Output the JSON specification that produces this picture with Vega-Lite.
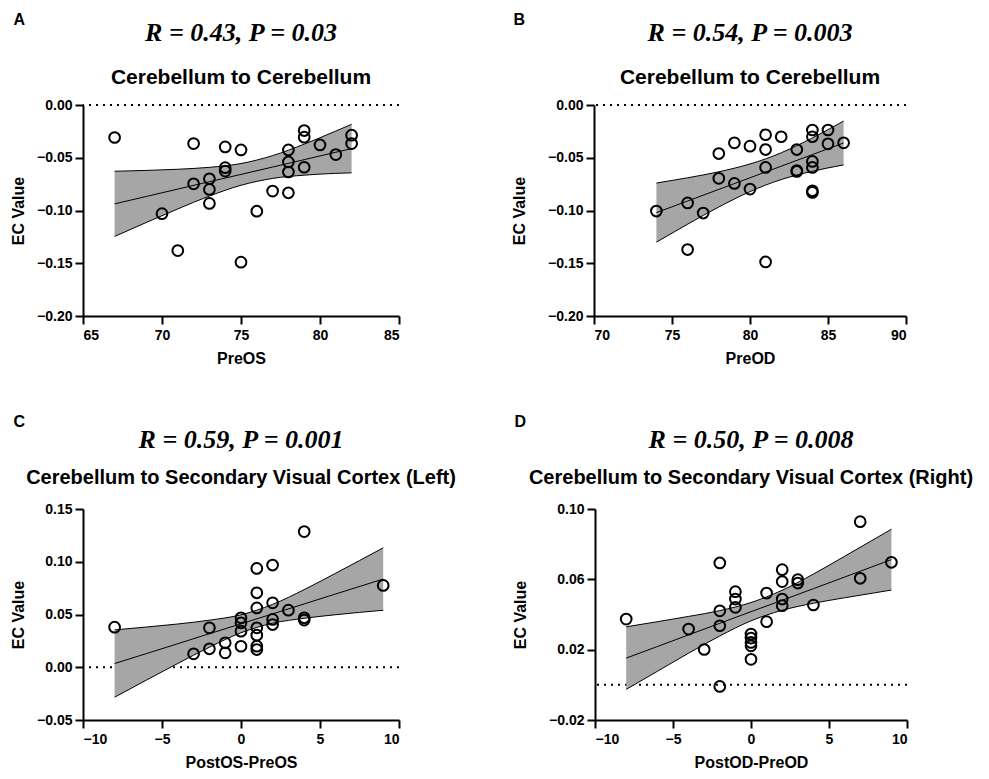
{
  "$schema": "https://vega.github.io/schema/vega-lite/v6.json",
  "padding": {"left": 10, "top": 12, "right": 0, "bottom": 0},
  "background": "white",
  "config": {
    "view": {"stroke": null},
    "font": "Liberation Sans",
    "axis": {"domain": true, "ticks": true, "grid": false, "zindex": 1, "domainColor": "black", "domainWidth": 2, "tickColor": "black", "tickWidth": 2, "tickSize": 8, "labelFont": "Liberation Sans", "labelFontWeight": "bold", "labelFontSize": 14, "labelColor": "black", "labelOverlap": false, "labelSeparation": 0, "titleFont": "Liberation Sans", "titleFontWeight": "bold", "titleFontSize": 16, "titleColor": "black"},
    "title": {"color": "black", "subtitleColor": "black"}
  },
  "datasets": {
    "zero": [{"z": 0}],
    "ptsA": [
      {"x": 67, "y": -0.0308}, {"x": 70, "y": -0.103}, {"x": 71, "y": -0.138}, {"x": 72, "y": -0.0366},
      {"x": 72, "y": -0.0747}, {"x": 73, "y": -0.0699}, {"x": 73, "y": -0.080}, {"x": 73, "y": -0.0933},
      {"x": 74, "y": -0.0397}, {"x": 74, "y": -0.0594}, {"x": 74, "y": -0.0626}, {"x": 75, "y": -0.0426},
      {"x": 75, "y": -0.149}, {"x": 76, "y": -0.1007}, {"x": 77, "y": -0.0816}, {"x": 78, "y": -0.0426},
      {"x": 78, "y": -0.054}, {"x": 78, "y": -0.0635}, {"x": 78, "y": -0.0832}, {"x": 79, "y": -0.0242},
      {"x": 79, "y": -0.0305}, {"x": 79, "y": -0.059}, {"x": 80, "y": -0.0378}, {"x": 81, "y": -0.047},
      {"x": 82, "y": -0.0286}, {"x": 82, "y": -0.0366}
    ],
    "bandA": [
      {"x": 67, "lo": -0.1246, "hi": -0.0628, "fit": -0.0937},
      {"x": 69, "lo": -0.1114, "hi": -0.0620, "fit": -0.0867},
      {"x": 71, "lo": -0.0985, "hi": -0.0609, "fit": -0.0797},
      {"x": 73, "lo": -0.0863, "hi": -0.0591, "fit": -0.0727},
      {"x": 75, "lo": -0.0761, "hi": -0.0555, "fit": -0.0658},
      {"x": 77, "lo": -0.0696, "hi": -0.0480, "fit": -0.0588},
      {"x": 79, "lo": -0.0665, "hi": -0.0371, "fit": -0.0518},
      {"x": 81, "lo": -0.0648, "hi": -0.0247, "fit": -0.0448},
      {"x": 82, "lo": -0.0643, "hi": -0.0183, "fit": -0.0413}
    ],
    "ptsB": [
      {"x": 74, "y": -0.1005}, {"x": 76, "y": -0.0928}, {"x": 76, "y": -0.137}, {"x": 77, "y": -0.1024},
      {"x": 78, "y": -0.046}, {"x": 78, "y": -0.0695}, {"x": 79, "y": -0.0359}, {"x": 79, "y": -0.0743},
      {"x": 80, "y": -0.039}, {"x": 80, "y": -0.0797}, {"x": 81, "y": -0.0282}, {"x": 81, "y": -0.0422},
      {"x": 81, "y": -0.0592}, {"x": 81, "y": -0.1488}, {"x": 82, "y": -0.0301}, {"x": 83, "y": -0.0422},
      {"x": 83, "y": -0.0621}, {"x": 83, "y": -0.063}, {"x": 84, "y": -0.0237}, {"x": 84, "y": -0.0301},
      {"x": 84, "y": -0.0535}, {"x": 84, "y": -0.0592}, {"x": 84, "y": -0.0813}, {"x": 84, "y": -0.0829},
      {"x": 85, "y": -0.0237}, {"x": 85, "y": -0.0368}, {"x": 86, "y": -0.0359}
    ],
    "bandB": [
      {"x": 74, "lo": -0.130, "hi": -0.074, "fit": -0.102},
      {"x": 76, "lo": -0.113, "hi": -0.069, "fit": -0.091},
      {"x": 78, "lo": -0.0967, "hi": -0.0633, "fit": -0.080},
      {"x": 80, "lo": -0.0821, "hi": -0.0559, "fit": -0.069},
      {"x": 81, "lo": -0.0759, "hi": -0.0511, "fit": -0.0635},
      {"x": 82, "lo": -0.0707, "hi": -0.0453, "fit": -0.058},
      {"x": 84, "lo": -0.0628, "hi": -0.0312, "fit": -0.047},
      {"x": 86, "lo": -0.0568, "hi": -0.0152, "fit": -0.036}
    ],
    "ptsC": [
      {"x": -8, "y": 0.038}, {"x": -3, "y": 0.0127}, {"x": -2, "y": 0.0374}, {"x": -2, "y": 0.0175},
      {"x": -1, "y": 0.0232}, {"x": -1, "y": 0.0137}, {"x": 0, "y": 0.0469}, {"x": 0, "y": 0.0421},
      {"x": 0, "y": 0.0342}, {"x": 0, "y": 0.0199}, {"x": 1, "y": 0.0937}, {"x": 1, "y": 0.0706},
      {"x": 1, "y": 0.0562}, {"x": 1, "y": 0.0374}, {"x": 1, "y": 0.0304}, {"x": 1, "y": 0.020},
      {"x": 1, "y": 0.0168}, {"x": 2, "y": 0.0969}, {"x": 2, "y": 0.0611}, {"x": 2, "y": 0.0453},
      {"x": 2, "y": 0.0405}, {"x": 3, "y": 0.0541}, {"x": 4, "y": 0.1286}, {"x": 4, "y": 0.0469},
      {"x": 4, "y": 0.0447}, {"x": 9, "y": 0.0776}
    ],
    "bandC": [
      {"x": -8, "lo": -0.0284, "hi": 0.0354, "fit": 0.0035},
      {"x": -6, "lo": -0.0123, "hi": 0.0381, "fit": 0.0129},
      {"x": -4, "lo": 0.0036, "hi": 0.0410, "fit": 0.0223},
      {"x": -2, "lo": 0.0190, "hi": 0.0446, "fit": 0.0318},
      {"x": 0, "lo": 0.0327, "hi": 0.0497, "fit": 0.0412},
      {"x": 2, "lo": 0.0417, "hi": 0.0596, "fit": 0.0506},
      {"x": 4, "lo": 0.0464, "hi": 0.0736, "fit": 0.0600},
      {"x": 6, "lo": 0.0498, "hi": 0.0892, "fit": 0.0695},
      {"x": 9, "lo": 0.0540, "hi": 0.1132, "fit": 0.0836}
    ],
    "ptsD": [
      {"x": -8, "y": 0.0374}, {"x": -4, "y": 0.0317}, {"x": -3, "y": 0.0201}, {"x": -2, "y": 0.0693},
      {"x": -2, "y": 0.0421}, {"x": -2, "y": 0.0336}, {"x": -2, "y": -0.0009}, {"x": -1, "y": 0.053},
      {"x": -1, "y": 0.0488}, {"x": -1, "y": 0.0441}, {"x": 0, "y": 0.0289}, {"x": 0, "y": 0.0266},
      {"x": 0, "y": 0.0241}, {"x": 0, "y": 0.0222}, {"x": 0, "y": 0.0145}, {"x": 1, "y": 0.0522},
      {"x": 1, "y": 0.0359}, {"x": 2, "y": 0.0655}, {"x": 2, "y": 0.0587}, {"x": 2, "y": 0.0488},
      {"x": 2, "y": 0.045}, {"x": 3, "y": 0.0598}, {"x": 3, "y": 0.0579}, {"x": 4, "y": 0.0454},
      {"x": 7, "y": 0.0928}, {"x": 7, "y": 0.0606}, {"x": 9, "y": 0.0697}
    ],
    "bandD": [
      {"x": -8, "lo": -0.0026, "hi": 0.0330, "fit": 0.0152},
      {"x": -6, "lo": 0.0077, "hi": 0.0359, "fit": 0.0218},
      {"x": -4, "lo": 0.0180, "hi": 0.0389, "fit": 0.0284},
      {"x": -2, "lo": 0.0278, "hi": 0.0422, "fit": 0.0350},
      {"x": 0, "lo": 0.0364, "hi": 0.0468, "fit": 0.0416},
      {"x": 2, "lo": 0.0424, "hi": 0.0538, "fit": 0.0481},
      {"x": 4, "lo": 0.0464, "hi": 0.0630, "fit": 0.0547},
      {"x": 6, "lo": 0.0495, "hi": 0.0731, "fit": 0.0613},
      {"x": 9, "lo": 0.0539, "hi": 0.0885, "fit": 0.0712}
    ]
  },
  "vconcat": [
    {
      "hconcat": [
        {
          "title": {"text": "A", "anchor": "start", "fontSize": 16, "fontWeight": "bold", "font": "Liberation Sans", "offset": -8, "dx": 3},
          "vconcat": [
            {
              "width": 316, "height": 211,
              "title": {"text": "R = 0.43, P = 0.03", "frame": "group", "anchor": "middle", "font": "Liberation Serif", "fontStyle": "italic", "fontWeight": "bold", "fontSize": 26, "subtitle": "Cerebellum to Cerebellum", "subtitleFont": "Liberation Sans", "subtitleFontWeight": "bold", "subtitleFontSize": 21, "subtitlePadding": 21, "offset": 10},
              "layer": [
                {"data": {"name": "zero"}, "mark": {"type": "rule", "strokeDash": [2, 5], "strokeWidth": 2, "color": "black"}, "encoding": {"y": {"field": "z", "type": "quantitative", "scale": {"domain": [-0.2, 0], "nice": false}, "axis": {"values": [-0.2, -0.15, -0.1, -0.05, 0], "format": ".2f", "domain": true, "ticks": true, "zindex": 1, "labelOverlap": false, "labelSeparation": 0, "labelPadding": 3, "titlePadding": 10}, "title": "EC Value"}}},
                {"data": {"name": "bandA"}, "mark": {"type": "area", "color": "#a6a6a6", "opacity": 1, "interpolate": "monotone"}, "encoding": {"x": {"field": "x", "type": "quantitative", "scale": {"domain": [65, 85], "nice": false, "zero": false}, "axis": {"values": [65, 70, 75, 80, 85], "domain": true, "ticks": true, "zindex": 1, "labelOverlap": false, "labelPadding": 4, "titlePadding": 8}, "title": "PreOS"}, "y": {"field": "lo", "type": "quantitative", "title": "EC Value"}, "y2": {"field": "hi"}}},
                {"data": {"name": "bandA"}, "mark": {"type": "line", "color": "black", "strokeWidth": 1, "interpolate": "monotone"}, "encoding": {"x": {"field": "x", "type": "quantitative", "title": "PreOS"}, "y": {"field": "lo", "type": "quantitative", "title": "EC Value"}}},
                {"data": {"name": "bandA"}, "mark": {"type": "line", "color": "black", "strokeWidth": 1, "interpolate": "monotone"}, "encoding": {"x": {"field": "x", "type": "quantitative", "title": "PreOS"}, "y": {"field": "hi", "type": "quantitative", "title": "EC Value"}}},
                {"data": {"name": "bandA"}, "mark": {"type": "line", "color": "black", "strokeWidth": 1}, "encoding": {"x": {"field": "x", "type": "quantitative", "title": "PreOS"}, "y": {"field": "fit", "type": "quantitative", "title": "EC Value"}}},
                {"data": {"name": "ptsA"}, "mark": {"type": "point", "shape": "circle", "filled": false, "stroke": "black", "strokeWidth": 2, "size": 115, "opacity": 1}, "encoding": {"x": {"field": "x", "type": "quantitative", "title": "PreOS"}, "y": {"field": "y", "type": "quantitative", "title": "EC Value"}}}
              ]
            }
          ]
        },
        {
          "title": {"text": "B", "anchor": "start", "fontSize": 16, "fontWeight": "bold", "font": "Liberation Sans", "offset": -8, "dx": 2},
          "vconcat": [
            {
              "width": 312, "height": 211,
              "title": {"text": "R = 0.54, P = 0.003", "frame": "group", "anchor": "middle", "font": "Liberation Serif", "fontStyle": "italic", "fontWeight": "bold", "fontSize": 26, "subtitle": "Cerebellum to Cerebellum", "subtitleFont": "Liberation Sans", "subtitleFontWeight": "bold", "subtitleFontSize": 21, "subtitlePadding": 21, "offset": 10},
              "layer": [
                {"data": {"name": "zero"}, "mark": {"type": "rule", "strokeDash": [2, 5], "strokeWidth": 2, "color": "black"}, "encoding": {"y": {"field": "z", "type": "quantitative", "scale": {"domain": [-0.2, 0], "nice": false}, "axis": {"values": [-0.2, -0.15, -0.1, -0.05, 0], "format": ".2f", "domain": true, "ticks": true, "zindex": 1, "labelOverlap": false, "labelSeparation": 0, "labelPadding": 3, "titlePadding": 20}, "title": "EC Value"}}},
                {"data": {"name": "bandB"}, "mark": {"type": "area", "color": "#a6a6a6", "opacity": 1, "interpolate": "monotone"}, "encoding": {"x": {"field": "x", "type": "quantitative", "scale": {"domain": [70, 90], "nice": false, "zero": false}, "axis": {"values": [70, 75, 80, 85, 90], "domain": true, "ticks": true, "zindex": 1, "labelOverlap": false, "labelPadding": 4, "titlePadding": 8}, "title": "PreOD"}, "y": {"field": "lo", "type": "quantitative", "title": "EC Value"}, "y2": {"field": "hi"}}},
                {"data": {"name": "bandB"}, "mark": {"type": "line", "color": "black", "strokeWidth": 1, "interpolate": "monotone"}, "encoding": {"x": {"field": "x", "type": "quantitative", "title": "PreOD"}, "y": {"field": "lo", "type": "quantitative", "title": "EC Value"}}},
                {"data": {"name": "bandB"}, "mark": {"type": "line", "color": "black", "strokeWidth": 1, "interpolate": "monotone"}, "encoding": {"x": {"field": "x", "type": "quantitative", "title": "PreOD"}, "y": {"field": "hi", "type": "quantitative", "title": "EC Value"}}},
                {"data": {"name": "bandB"}, "mark": {"type": "line", "color": "black", "strokeWidth": 1}, "encoding": {"x": {"field": "x", "type": "quantitative", "title": "PreOD"}, "y": {"field": "fit", "type": "quantitative", "title": "EC Value"}}},
                {"data": {"name": "ptsB"}, "mark": {"type": "point", "shape": "circle", "filled": false, "stroke": "black", "strokeWidth": 2, "size": 115, "opacity": 1}, "encoding": {"x": {"field": "x", "type": "quantitative", "title": "PreOD"}, "y": {"field": "y", "type": "quantitative", "title": "EC Value"}}}
              ]
            }
          ]
        }
      ],
      "spacing": 111
    },
    {
      "hconcat": [
        {
          "title": {"text": "C", "anchor": "start", "fontSize": 16, "fontWeight": "bold", "font": "Liberation Sans", "offset": -3, "dx": 3},
          "vconcat": [
            {
              "width": 316, "height": 211,
              "title": {"text": "R = 0.59, P = 0.001", "frame": "group", "anchor": "middle", "font": "Liberation Serif", "fontStyle": "italic", "fontWeight": "bold", "fontSize": 26, "subtitle": "Cerebellum to Secondary Visual Cortex (Left)", "subtitleFont": "Liberation Sans", "subtitleFontWeight": "bold", "subtitleFontSize": 20, "subtitlePadding": 15, "offset": 14},
              "layer": [
                {"data": {"name": "zero"}, "mark": {"type": "rule", "strokeDash": [2, 5], "strokeWidth": 2, "color": "black"}, "encoding": {"y": {"field": "z", "type": "quantitative", "scale": {"domain": [-0.05, 0.15], "nice": false}, "axis": {"values": [-0.05, 0, 0.05, 0.1, 0.15], "format": ".2f", "domain": true, "ticks": true, "zindex": 1, "labelOverlap": false, "labelSeparation": 0, "labelPadding": 3, "titlePadding": 10}, "title": "EC Value"}}},
                {"data": {"name": "bandC"}, "mark": {"type": "area", "color": "#a6a6a6", "opacity": 1, "interpolate": "monotone"}, "encoding": {"x": {"field": "x", "type": "quantitative", "scale": {"domain": [-10, 10], "nice": false, "zero": false}, "axis": {"values": [-10, -5, 0, 5, 10], "domain": true, "ticks": true, "zindex": 1, "labelOverlap": false, "labelPadding": 4, "titlePadding": 8}, "title": "PostOS-PreOS"}, "y": {"field": "lo", "type": "quantitative", "title": "EC Value"}, "y2": {"field": "hi"}}},
                {"data": {"name": "bandC"}, "mark": {"type": "line", "color": "black", "strokeWidth": 1, "interpolate": "monotone"}, "encoding": {"x": {"field": "x", "type": "quantitative", "title": "PostOS-PreOS"}, "y": {"field": "lo", "type": "quantitative", "title": "EC Value"}}},
                {"data": {"name": "bandC"}, "mark": {"type": "line", "color": "black", "strokeWidth": 1, "interpolate": "monotone"}, "encoding": {"x": {"field": "x", "type": "quantitative", "title": "PostOS-PreOS"}, "y": {"field": "hi", "type": "quantitative", "title": "EC Value"}}},
                {"data": {"name": "bandC"}, "mark": {"type": "line", "color": "black", "strokeWidth": 1}, "encoding": {"x": {"field": "x", "type": "quantitative", "title": "PostOS-PreOS"}, "y": {"field": "fit", "type": "quantitative", "title": "EC Value"}}},
                {"data": {"name": "ptsC"}, "mark": {"type": "point", "shape": "circle", "filled": false, "stroke": "black", "strokeWidth": 2, "size": 115, "opacity": 1}, "encoding": {"x": {"field": "x", "type": "quantitative", "title": "PostOS-PreOS"}, "y": {"field": "y", "type": "quantitative", "title": "EC Value"}}}
              ]
            }
          ]
        },
        {
          "title": {"text": "D", "anchor": "start", "fontSize": 16, "fontWeight": "bold", "font": "Liberation Sans", "offset": -3, "dx": 2},
          "vconcat": [
            {
              "width": 312, "height": 211,
              "title": {"text": "R = 0.50, P = 0.008", "frame": "group", "anchor": "middle", "font": "Liberation Serif", "fontStyle": "italic", "fontWeight": "bold", "fontSize": 26, "subtitle": "Cerebellum to Secondary Visual Cortex (Right)", "subtitleFont": "Liberation Sans", "subtitleFontWeight": "bold", "subtitleFontSize": 20, "subtitlePadding": 15, "offset": 14},
              "layer": [
                {"data": {"name": "zero"}, "mark": {"type": "rule", "strokeDash": [2, 5], "strokeWidth": 2, "color": "black"}, "encoding": {"y": {"field": "z", "type": "quantitative", "scale": {"domain": [-0.02, 0.1], "nice": false}, "axis": {"values": [-0.02, 0, 0.02, 0.04, 0.06, 0.08, 0.1], "format": ".2f", "domain": true, "ticks": true, "zindex": 1, "labelOverlap": false, "labelSeparation": 0, "labelPadding": 3, "titlePadding": 20}, "title": "EC Value"}}},
                {"data": {"name": "bandD"}, "mark": {"type": "area", "color": "#a6a6a6", "opacity": 1, "interpolate": "monotone"}, "encoding": {"x": {"field": "x", "type": "quantitative", "scale": {"domain": [-10, 10], "nice": false, "zero": false}, "axis": {"values": [-10, -5, 0, 5, 10], "domain": true, "ticks": true, "zindex": 1, "labelOverlap": false, "labelPadding": 4, "titlePadding": 8}, "title": "PostOD-PreOD"}, "y": {"field": "lo", "type": "quantitative", "title": "EC Value"}, "y2": {"field": "hi"}}},
                {"data": {"name": "bandD"}, "mark": {"type": "line", "color": "black", "strokeWidth": 1, "interpolate": "monotone"}, "encoding": {"x": {"field": "x", "type": "quantitative", "title": "PostOD-PreOD"}, "y": {"field": "lo", "type": "quantitative", "title": "EC Value"}}},
                {"data": {"name": "bandD"}, "mark": {"type": "line", "color": "black", "strokeWidth": 1, "interpolate": "monotone"}, "encoding": {"x": {"field": "x", "type": "quantitative", "title": "PostOD-PreOD"}, "y": {"field": "hi", "type": "quantitative", "title": "EC Value"}}},
                {"data": {"name": "bandD"}, "mark": {"type": "line", "color": "black", "strokeWidth": 1}, "encoding": {"x": {"field": "x", "type": "quantitative", "title": "PostOD-PreOD"}, "y": {"field": "fit", "type": "quantitative", "title": "EC Value"}}},
                {"data": {"name": "ptsD"}, "mark": {"type": "point", "shape": "circle", "filled": false, "stroke": "black", "strokeWidth": 2, "size": 115, "opacity": 1}, "encoding": {"x": {"field": "x", "type": "quantitative", "title": "PostOD-PreOD"}, "y": {"field": "y", "type": "quantitative", "title": "EC Value"}}}
              ]
            }
          ]
        }
      ],
      "spacing": 56
    }
  ],
  "spacing": 48
}
